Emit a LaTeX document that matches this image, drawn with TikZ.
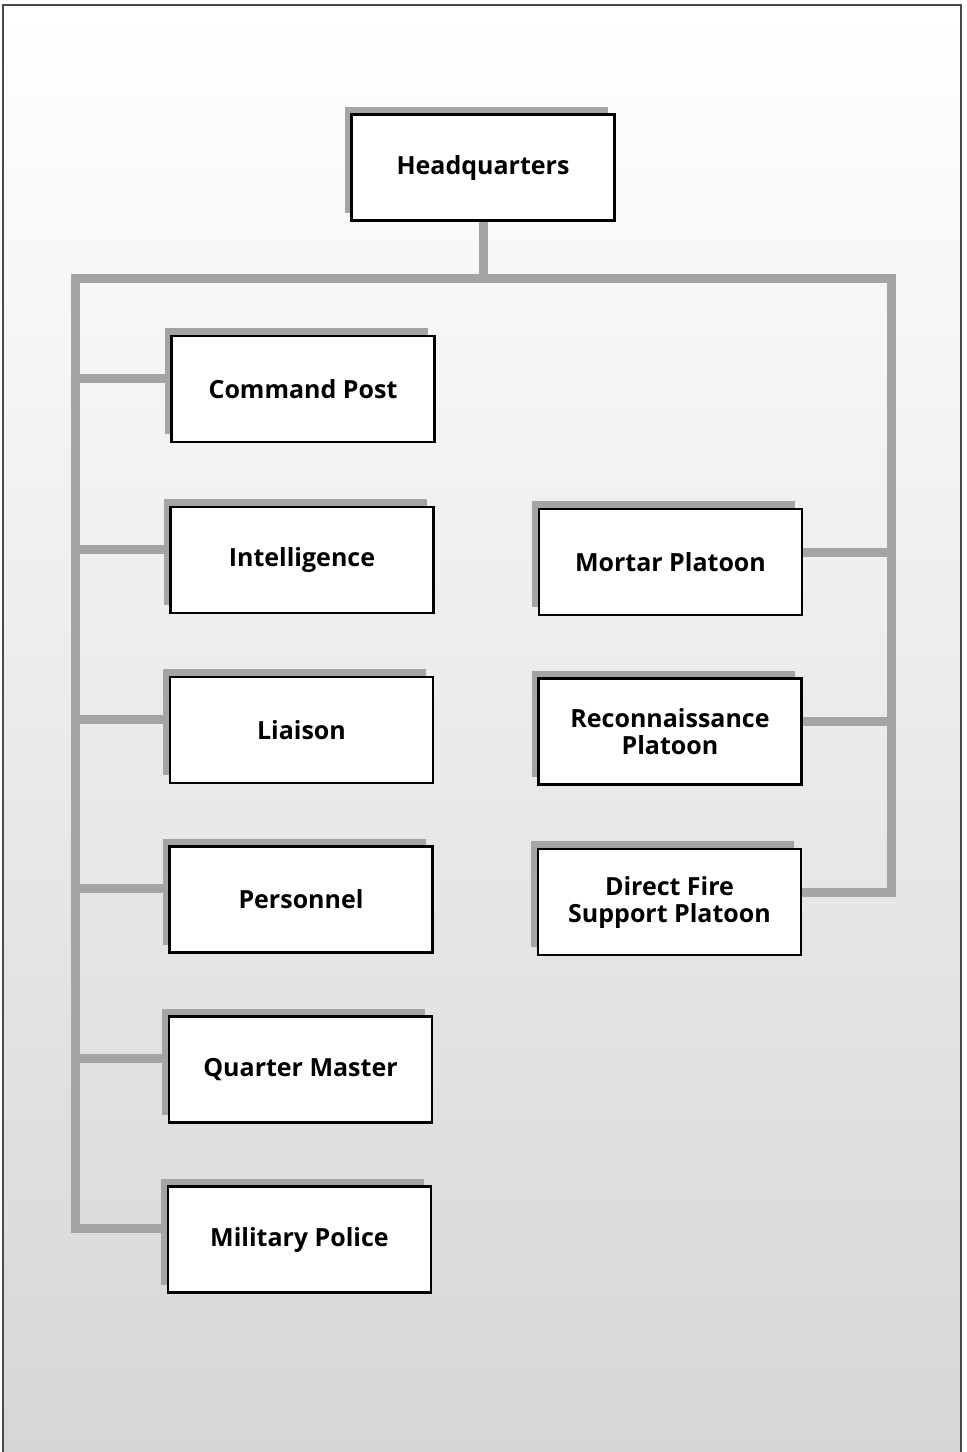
\documentclass[tikz,border=0pt]{standalone}
\usepackage{fontspec}
\setmainfont{Open Sans}
\usetikzlibrary{shadows,backgrounds}
\definecolor{linkgray}{HTML}{A4A4A4}
\definecolor{framegray}{HTML}{4A4A4A}
\tikzset{
  unit/.style={draw=black, line width=2.6pt, fill=white,
    minimum width=263pt, minimum height=106pt, inner sep=0pt,
    align=center, font=\fontsize{25}{27}\selectfont\bfseries,
    general shadow={fill=linkgray, shadow xshift=-7pt, shadow yshift=8pt}},
  link/.style={draw=linkgray, line width=9pt, line cap=butt, line join=miter},
  frame/.style={draw=framegray, line width=2pt}
}
\begin{document}
\begin{tikzpicture}[x=1pt, y=-1pt]
\useasboundingbox (0,0) rectangle (967,1452);

% units
\node[unit] (hq)  at (483,167.5) {Headquarters};
\node[unit] (cp)  at (303,389)   {Command Post};
\node[unit] (int) at (302,560)   {Intelligence};
\node[unit] (lia) at (301.5,730) {Liaison};
\node[unit] (per) at (301,899.5) {Personnel};
\node[unit] (qm)  at (300.5,1069.5) {Quarter Master};
\node[unit] (mp)  at (299.5,1239.5) {Military Police};
\node[unit] (mor) at (670.5,562) {Mortar Platoon};
\node[unit] (rec) at (670,731.5) {Reconnaissance\\Platoon};
\node[unit] (dfs) at (669.5,902) {Direct Fire\\Support Platoon};

% trunk corners
\coordinate (tl) at (75,278);
\coordinate (tr) at (891,278);

% branch attachment points, a little above each box's middle
\foreach \n in {cp,int,lia,per,qm,mp}
  \coordinate (b\n) at ([yshift=11pt]\n.west);
\foreach \n in {mor,rec,dfs}
  \coordinate (b\n) at ([yshift=10pt]\n.east);

\begin{pgfonlayer}{background}
  % paper with gradient
  \shade[top color=white, middle color=black!5, bottom color=black!16]
    (3,5) rectangle (961,1452);
  \draw[frame] (3,1452) -- (3,5) -- (961,5) -- (961,1452);

  % tree connectors
  \draw[link] (hq.south) -- (hq.south |- tl);
  \draw[link] (bmp) -| (tl) -- (tr) |- (bdfs);
  \foreach \n in {cp,int,lia,per,qm}
    \draw[link] (b\n) -- (tl |- b\n);
  \foreach \n in {mor,rec}
    \draw[link] (b\n) -- (tr |- b\n);
\end{pgfonlayer}
\end{tikzpicture}
\end{document}
